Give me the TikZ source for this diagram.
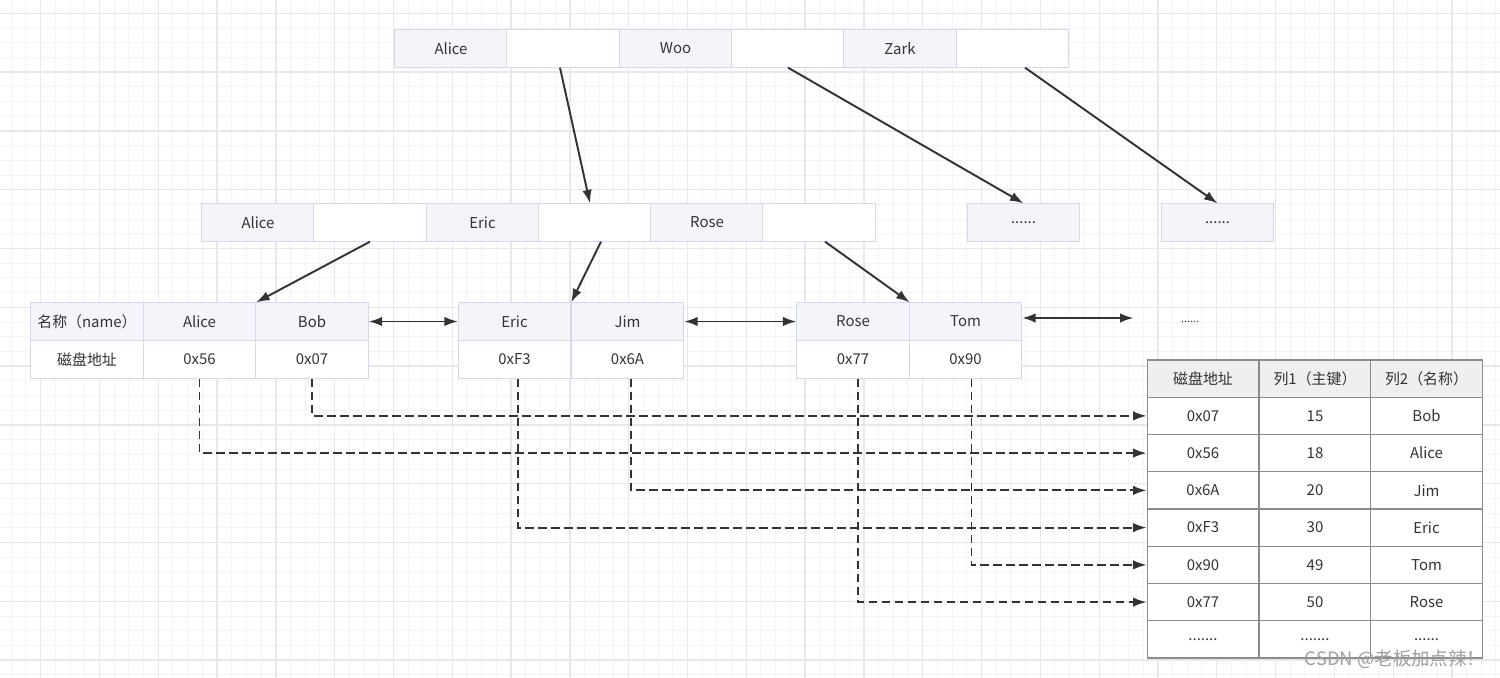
\documentclass[tikz,border=0pt]{standalone}
\usepackage{fontspec}
\setmainfont{Noto Sans CJK SC}
\usetikzlibrary{arrows.meta}
\usetikzlibrary{calc}

\definecolor{txt}{HTML}{333333}
\definecolor{cellline}{HTML}{D3D8EA}
\definecolor{cellfill}{HTML}{F4F5F9}
\definecolor{tabline}{HTML}{8C8C8C}
\definecolor{headfill}{HTML}{EFEFEF}
\definecolor{gridminor}{HTML}{F4F4F4}
\definecolor{gridmajor}{HTML}{E8E8E8}

\begin{document}
\begin{tikzpicture}[x=0.02cm, y=-0.02cm,
    >={Latex[length=2.7mm,width=1.9mm]},
    keycell/.style={draw=cellline, fill=cellfill, line width=0.6pt, inner sep=0pt,
      minimum width=2.246cm, minimum height=0.745cm, text=txt,
      font=\fontsize{8.5}{10}\selectfont},
    ptrcell/.style={keycell, fill=white},
    tabcell/.style={draw=tabline, fill=white, line width=0.6pt, inner sep=0pt,
      minimum width=2.24cm, minimum height=0.745cm, text=txt,
      font=\fontsize{8.5}{10}\selectfont},
    tabhead/.style={tabcell, fill=headfill},
    link/.style={draw=txt, line width=1.1pt},
    addrlink/.style={link, dash pattern=on 5pt off 2.4pt}]

      % paper and grid
      \useasboundingbox (0,0) rectangle (1500,678);
      \fill[white] (0,0) rectangle (1500,678);
      \foreach \k in {0,...,101}
        \draw[gridminor, line width=0.5pt] ({11.2+14.7*\k},0) -- ({11.2+14.7*\k},678);
      \foreach \k in {0,...,45}
        \draw[gridminor, line width=0.5pt] (0,{13.3+14.7*\k}) -- (1500,{13.3+14.7*\k});
      \foreach \k in {0,...,24}
        \draw[gridmajor, line width=0.7pt] ({40.7+58.8*\k},0) -- ({40.7+58.8*\k},678);
      \foreach \k in {0,...,11}
        \draw[gridmajor, line width=0.7pt] (0,{13.3+58.8*\k}) -- (1500,{13.3+58.8*\k});

      % root node
      \node (rootA) at (451,48.5) [keycell] {Alice};
      \node (rootAp) at (563,48.5) [ptrcell] {};
      \node (rootW) at (675.5,48.5) [keycell] {Woo};
      \node (rootWp) at (788,48.5) [ptrcell] {};
      \node (rootZ) at (900,48.5) [keycell] {Zark};
      \node (rootZp) at (1012.5,48.5) [ptrcell] {};

      % second level
      \node (midA) at (258,222.5) [keycell] {Alice};
      \node (midAp) at (370,222.5) [ptrcell] {};
      \node (midE) at (482.5,222.5) [keycell] {Eric};
      \node (midEp) at (595,222.5) [ptrcell] {};
      \node (midR) at (707,222.5) [keycell] {Rose};
      \node (midRp) at (819,222.5) [ptrcell] {};

      \node (dots1) at (1023.5,222.5) [keycell] {......};
      \node (dots2) at (1217.5,222.5) [keycell] {......};

      \draw [link, ->] ([xshift=-0.06cm]rootAp.south) -- ([xshift=-0.1cm]midEp.north);
      \draw [link, ->] (rootWp.south) -- (dots1.north);
      \draw [link, ->] ([xshift=0.25cm]rootZp.south) -- (dots2.north);

      % leaf nodes
      \node (lfname) at (87,321.5) [keycell] {名称（name）};
      \node (lfaddr) at (87,359.5) [ptrcell] {磁盘地址};
      \node (lfA) at (199.5,321.5) [keycell] {Alice};
      \node (lfAaddr) at (199.5,359.5) [ptrcell] {0x56};
      \node (lfB) at (312,321.5) [keycell] {Bob};
      \node (lfBaddr) at (312,359.5) [ptrcell] {0x07};

      \node (lfE) at (514.5,321.5) [keycell] {Eric};
      \node (lfEaddr) at (514.5,359.5) [ptrcell] {0xF3};
      \node (lfJ) at (627.5,321.5) [keycell] {Jim};
      \node (lfJaddr) at (627.5,359.5) [ptrcell] {0x6A};

      \node (lfR) at (853,321.5) [keycell] {Rose};
      \node (lfRaddr) at (853,359.5) [ptrcell] {0x77};
      \node (lfT) at (965.5,321.5) [keycell] {Tom};
      \node (lfTaddr) at (965.5,359.5) [ptrcell] {0x90};

      \node (lfmore) at (1190,321.5) [minimum width=2.246cm, minimum height=0.745cm,
      text=txt, font=\fontsize{6}{7}\selectfont] {......};

      \draw [link, ->] (midAp.south) -- (lfA.north east);
      \draw [link, ->] ([xshift=0.12cm]midEp.south) -- (lfE.north east);
      \draw [link, ->] ([xshift=0.12cm]midRp.south) -- (lfR.north east);

      \draw [link, <->] (lfB.east) -- (lfE.west);
      \draw [link, <->] (lfJ.east) -- (lfR.west);
      \draw [link, <->] ([yshift=0.07cm]lfT.east) -- ([yshift=0.07cm]lfmore.west);

      % table on disk
      \node (tbh1) at (1203,378.6) [tabhead] {磁盘地址};
      \node (tbh2) at (1315,378.6) [tabhead] {列1（主键）};
      \node (tbh3) at (1426.5,378.6) [tabhead] {列2（名称）};

      \node (tb07) at (1203,415.9) [tabcell] {0x07};
      \node at (1315,415.9) [tabcell] {15};
      \node at (1426.5,415.9) [tabcell] {Bob};

      \node (tb56) at (1203,453.1) [tabcell] {0x56};
      \node at (1315,453.1) [tabcell] {18};
      \node at (1426.5,453.1) [tabcell] {Alice};

      \node (tb6A) at (1203,490.4) [tabcell] {0x6A};
      \node at (1315,490.4) [tabcell] {20};
      \node at (1426.5,490.4) [tabcell] {Jim};

      \node (tbF3) at (1203,527.6) [tabcell] {0xF3};
      \node at (1315,527.6) [tabcell] {30};
      \node at (1426.5,527.6) [tabcell] {Eric};

      \node (tb90) at (1203,564.9) [tabcell] {0x90};
      \node at (1315,564.9) [tabcell] {49};
      \node at (1426.5,564.9) [tabcell] {Tom};

      \node (tb77) at (1203,602.1) [tabcell] {0x77};
      \node at (1315,602.1) [tabcell] {50};
      \node at (1426.5,602.1) [tabcell] {Rose};

      \node (tbend1) at (1203,639.4) [tabcell] {.......};
      \node (tbend2) at (1315,639.4) [tabcell] {.......};
      \node (tbend3) at (1426.5,639.4) [tabcell] {......};

      % disk addresses
      \draw [addrlink, ->] (lfBaddr.south) |- (tb07.west);
      \draw [addrlink, ->] (lfAaddr.south) |- (tb56.west);
      \draw [addrlink, ->] ([xshift=0.07cm]lfJaddr.south) |- (tb6A.west);
      \draw [addrlink, ->] ([xshift=0.07cm]lfEaddr.south) |- (tbF3.west);
      \draw [addrlink, ->] ([xshift=0.12cm]lfTaddr.south) |- (tb90.west);
      \draw [addrlink, ->] ([xshift=0.1cm]lfRaddr.south) |- (tb77.west);

      \node (mark) at (1395,659) [text=gray!75, font=\fontsize{10.5}{12}\selectfont]
      {CSDN @老板加点辣！};
\end{tikzpicture}
\end{document}
